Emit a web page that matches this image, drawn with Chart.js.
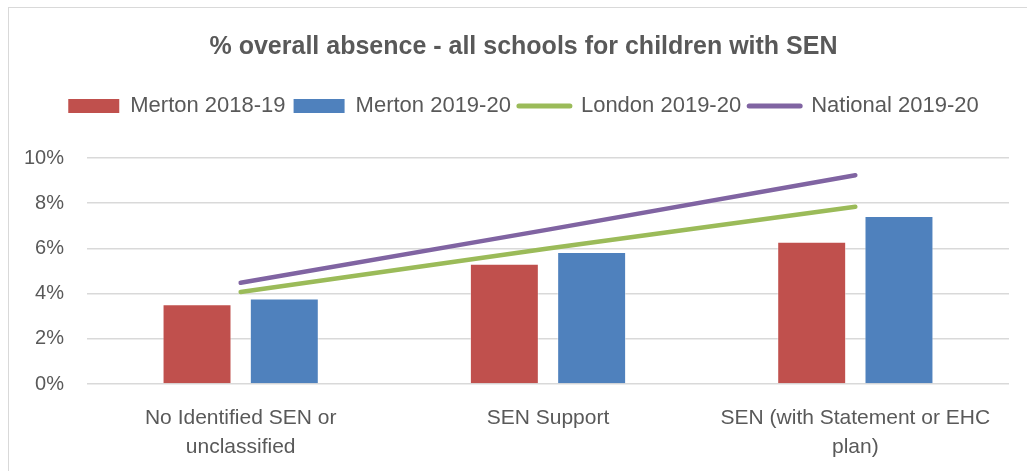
<!DOCTYPE html>
<html>
<head>
<meta charset="utf-8">
<script src="https://cdn.jsdelivr.net/npm/chart.js@4.4.1/dist/chart.umd.min.js"></script>
<style>
  body { margin: 0; background: #fff; }
  #wrap { position: relative; width: 1027px; height: 471px; }
  #frame { position: absolute; left: 8px; top: 7px; width: 1030px; height: 480px;
           border: 1px solid #d9d9d9; pointer-events: none; }
</style>
</head>
<body>
<div id="wrap">
  <canvas id="mycanvas" width="1027" height="471"></canvas>
  <div id="frame"></div>
</div>
<script>
var categories = [["No Identified SEN or", "unclassified"], "SEN Support", ["SEN (with Statement or EHC", "plan)"]];
var merton1819 = [3.53, 5.32, 6.29];
var merton1920 = [3.78, 5.84, 7.43];
var london1920 = [4.07, 6.00, 7.84];
var national1920 = [4.48, 6.83, 9.24];
var yTicks = [0, 2, 4, 6, 8, 10];

var grey = "#595959";
var fontFamily = "'Liberation Sans', Arial, sans-serif";

var chartdata = {
    labels: categories,
    datasets: [
        {
            type: "bar",
            label: "Merton 2018-19",
            data: merton1819,
            backgroundColor: "#C0504D",
            borderColor: "rgba(255,255,255,0.45)",
            borderWidth: 1,
            barPercentage: 0.79,
            categoryPercentage: 0.568,
            order: 2
        },
        {
            type: "bar",
            label: "Merton 2019-20",
            data: merton1920,
            backgroundColor: "#4F81BD",
            borderColor: "rgba(255,255,255,0.45)",
            borderWidth: 1,
            barPercentage: 0.79,
            categoryPercentage: 0.568,
            order: 2
        },
        {
            type: "line",
            label: "London 2019-20",
            data: london1920,
            borderColor: "#9BBB59",
            backgroundColor: "#9BBB59",
            borderWidth: 4.5,
            borderCapStyle: "round",
            pointRadius: 0,
            fill: false,
            tension: 0,
            order: 1
        },
        {
            type: "line",
            label: "National 2019-20",
            data: national1920,
            borderColor: "#8064A2",
            backgroundColor: "#8064A2",
            borderWidth: 4.5,
            borderCapStyle: "round",
            pointRadius: 0,
            fill: false,
            tension: 0,
            order: 1
        }
    ]
};

var ctx = document.getElementById("mycanvas");
var chart = new Chart(ctx, {
    type: "bar",
    data: chartdata,
    options: {
        responsive: false,
        animation: false,
        layout: { padding: { left: 20, right: 0, top: 0, bottom: 0 } },
        plugins: {
            tooltip: { enabled: false },
            title: {
                display: true,
                text: "% overall absence - all schools for children with SEN",
                color: grey,
                font: { family: fontFamily, size: 25, weight: "bold", lineHeight: 1.2 },
                padding: { top: 32, bottom: 25 }
            },
            legend: {
                position: "top",
                labels: {
                    color: grey,
                    font: { family: fontFamily, size: 22 },
                    usePointStyle: true,
                    pointStyleWidth: 51,
                    boxHeight: 14,
                    padding: 8,
                    sort: function(a, b){ return a.datasetIndex - b.datasetIndex; },
                    generateLabels: function(c){
                        var items = Chart.defaults.plugins.legend.labels.generateLabels(c);
                        items.forEach(function(it){
                            var ds = c.data.datasets[it.datasetIndex];
                            if (ds.type === "line") {
                                it.pointStyle = "line";
                                it.lineWidth = 5;
                                it.strokeStyle = ds.borderColor;
                                it.lineCap = "round";
                            } else {
                                it.pointStyle = "rect";
                                it.lineWidth = 0;
                                it.strokeStyle = ds.backgroundColor;
                            }
                        });
                        return items;
                    }
                }
            }
        },
        scales: {
            x: {
                grid: { display: false },
                border: { display: false },
                ticks: {
                    color: grey,
                    font: { family: fontFamily, size: 21, lineHeight: 1.38 },
                    padding: 12,
                    maxRotation: 0,
                    autoSkip: false
                },
                afterFit: function(s){ s.height = 87; }
            },
            x2: {
                position: "top",
                grid: { display: false },
                border: { display: false },
                ticks: { display: false },
                afterFit: function(s){ s.height = 31; }
            },
            y: {
                min: 0,
                max: 10,
                afterBuildTicks: function(s){ s.ticks = yTicks.map(function(v){ return { value: v }; }); },
                grid: { color: "#d9d9d9", lineWidth: 1.5, drawTicks: false },
                border: { display: false },
                ticks: {
                    color: grey,
                    font: { family: fontFamily, size: 20 },
                    padding: 23,
                    callback: function(v){ return v + "%"; }
                },
                afterFit: function(s){ s.width = 67; }
            },
            y2: {
                position: "right",
                min: 0,
                max: 10,
                grid: { display: false },
                border: { display: false },
                ticks: { display: false },
                afterFit: function(s){ s.width = 18; }
            }
        }
    }
});
</script>
</body>
</html>
